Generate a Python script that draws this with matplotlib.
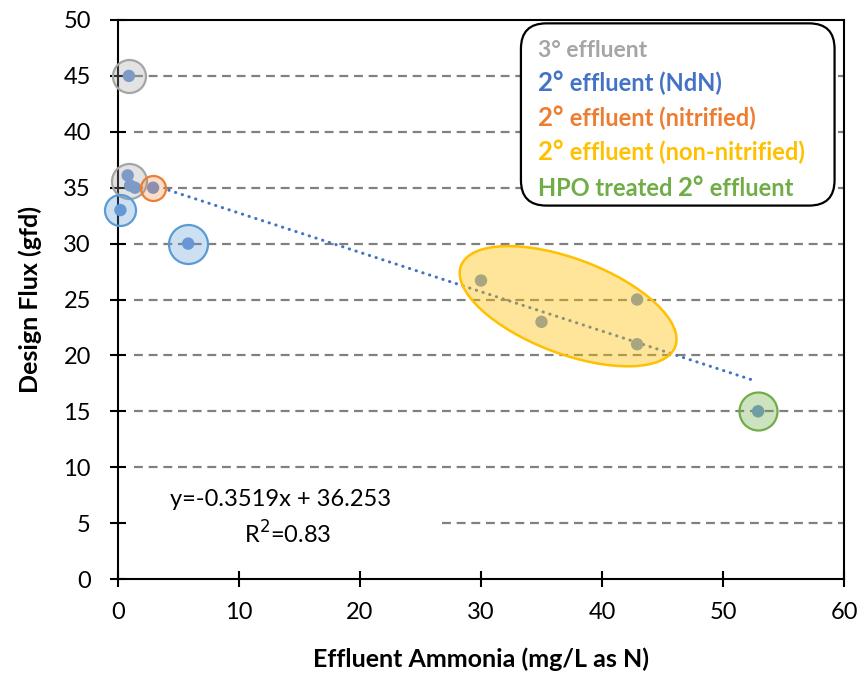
import numpy as np
import matplotlib
matplotlib.use('Agg')
import matplotlib.pyplot as plt
from matplotlib.patches import Ellipse, FancyBboxPatch, Rectangle
from matplotlib.transforms import ScaledTranslation
from matplotlib.colors import to_rgba

plt.rcParams['font.family'] = ['Lato', 'DejaVu Sans']

# measured points (effluent ammonia, design flux)
ammonia = [0.9, 0.8, 1.0, 1.4, 2.9, 0.2, 5.8, 30.0, 35.0, 42.9, 42.9, 52.9]
flux = [45.0, 36.1, 35.2, 35.0, 35.0, 33.0, 30.0, 26.7, 23.0, 25.0, 21.0, 15.0]

# trend line from the fit
slope = -0.3519
intercept = 36.253
trend_x = [4.2, 52.8]

# highlight circles: x, y, diameter (px), colour
circle_x = [0.9, 0.9, 2.9, 0.2, 5.8, 52.9]
circle_y = [45.0, 35.6, 35.0, 33.0, 30.0, 15.0]
circle_d = [33, 35, 25, 31, 39, 38]
circle_c = ['#A5A5A5', '#A5A5A5', '#ED7D31', '#5B9BD5', '#5B9BD5', '#70AD47']
circle_a = [0.3, 0.3, 0.25, 0.3, 0.3, 0.35]

# group ellipse (non-nitrified)
ell_center = (37.2, 24.4)

legend_labels = ['3° effluent', '2° effluent (NdN)', '2° effluent (nitrified)',
                 '2° effluent (non-nitrified)', 'HPO treated 2° effluent']
legend_colors = ['#A5A5A5', '#4472C4', '#ED7D31', '#FFC000', '#70AD47']

fig = plt.figure(figsize=(8.65, 6.77), dpi=100)
ax = fig.add_axes([118 / 865, 1 - 579 / 677, 726 / 865, 559 / 677])

ax.set_xlim(0, 60)
ax.set_ylim(0, 50)
ax.set_xticks(range(0, 61, 10))
ax.set_yticks(range(0, 51, 5))

for y in range(5, 50, 5):
    ax.axhline(y, xmin=0.022, color='#808080', lw=1.6, ls=(0, (4, 2.6)), zorder=1)

tx = np.array(trend_x)
ax.plot(tx, slope * tx + intercept, color='#4472C4', lw=2.2, ls=(0, (0.1, 2.2)),
        dash_capstyle='round', zorder=2)

ax.scatter(ammonia, flux, s=80, color='#6E96D6', edgecolors='none', zorder=3,
           clip_on=False)

for x, y, d, c, a in zip(circle_x, circle_y, circle_d, circle_c, circle_a):
    ax.scatter([x], [y], s=(d * 0.72) ** 2, facecolors=[to_rgba(c, a)],
               edgecolors=[c], linewidths=1.6, zorder=4, clip_on=False)

ell = Ellipse((0, 0), 2.29, 0.95, angle=-20.7, facecolor=to_rgba('#FFC000', 0.4),
              edgecolor='#FFC000', lw=1.8,
              transform=fig.dpi_scale_trans + ScaledTranslation(*ell_center, ax.transData),
              zorder=4)
ax.add_patch(ell)

# legend box
box = FancyBboxPatch((0.555, 0.668), 0.432, 0.326,
                     boxstyle='round,pad=0,rounding_size=0.035', mutation_aspect=1.3,
                     transform=ax.transAxes, facecolor='white', edgecolor='black',
                     lw=1.6, zorder=5)
ax.add_patch(box)

renderer = fig.canvas.get_renderer()
baselines = [57, 91, 126, 160, 196]
for lab, col, py in zip(legend_labels, legend_colors, baselines):
    if lab.startswith('3'):
        parts = [(lab, 16.5)]
    else:
        pre, post = lab.split('2°')
        parts = [(pre, 17), ('2°', 18.5), (post, 17)]
    xa = (538 - 118) / 726
    ya = (579 - py) / 559
    for txt, fs in parts:
        if not txt:
            continue
        t = ax.text(xa, ya, txt, color=col, fontsize=fs, fontweight='bold',
                    ha='left', va='baseline', transform=ax.transAxes, zorder=6)
        w = t.get_window_extent(renderer).width
        xa += w / ax.get_window_extent(renderer).width

# equation with white background
ax.add_patch(Rectangle((0.012, 0.06), 0.427, 0.12, transform=ax.transAxes,
                       facecolor='white', edgecolor='none', zorder=1.5))
ax.text((281 - 118) / 726, (579 - 499) / 559, 'y=-0.3519x + 36.253', fontsize=17,
        ha='center', va='center', transform=ax.transAxes, zorder=6)
ax.text((288 - 118) / 726, (579 - 534) / 559, 'R$^2$=0.83', fontsize=17,
        ha='center', va='center', transform=ax.transAxes, zorder=6)

for sp in ax.spines.values():
    sp.set_linewidth(1.5)
ax.tick_params(direction='inout', length=11, width=1.5, labelsize=17,
               top=False, right=False)
ax.tick_params(axis='x', pad=11)
ax.tick_params(axis='y', pad=14)
ax.set_xlabel('Effluent Ammonia (mg/L as N)', fontsize=18, fontweight='bold', labelpad=18)
ax.set_ylabel('Design Flux (gfd)', fontsize=18, fontweight='bold', labelpad=15)

fig.savefig('out.png', dpi=100)
